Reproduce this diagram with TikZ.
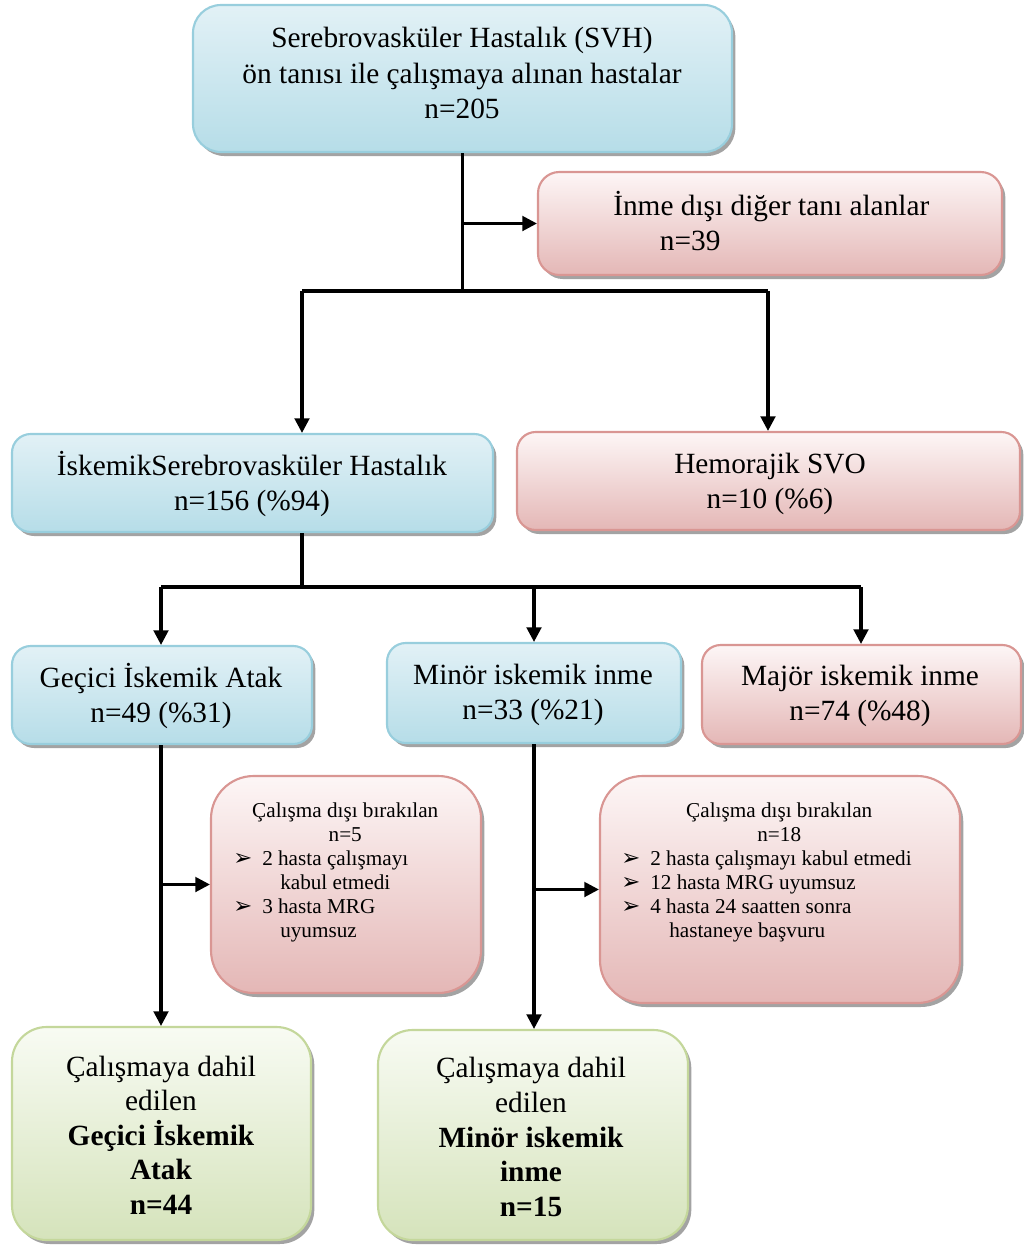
\documentclass[tikz,border=0pt]{standalone}
\usepackage{fontspec}
\setmainfont{Liberation Serif}
\newfontfamily\dejavu{DejaVu Sans}
\usetikzlibrary{fit,shadows,arrows.meta}
\definecolor{bluetop}{HTML}{E2F1F6}
\definecolor{bluebot}{HTML}{B6DDE8}
\definecolor{bluedraw}{HTML}{98CEDD}
\definecolor{pinktop}{HTML}{FDF6F6}
\definecolor{pinkbot}{HTML}{E4B7B6}
\definecolor{pinkdraw}{HTML}{D99693}
\definecolor{greentop}{HTML}{F8FBF3}
\definecolor{greenbot}{HTML}{D5E3BB}
\definecolor{greendraw}{HTML}{C4D79B}
\newcommand{\blt}{\makebox[21.75pt][l]{\raisebox{-0.5pt}{\dejavu\fontsize{17}{17}\selectfont ➢}}}
\tikzset{
  boxbase/.style={inner sep=0pt, line width=1.6pt,
    drop shadow={shadow xshift=2.5pt, shadow yshift=-3pt, fill=black!45, opacity=0.8}},
  bluebox/.style={boxbase, draw=bluedraw, top color=bluetop, bottom color=bluebot},
  pinkbox/.style={boxbase, draw=pinkdraw, top color=pinktop, bottom color=pinkbot},
  greenbox/.style={boxbase, draw=greendraw, top color=greentop, bottom color=greenbot},
  bigtxt/.style={font=\fontsize{22}{26.3}\selectfont, align=center, inner sep=0pt},
  boldtxt/.style={font=\fontsize{22}{25.9}\selectfont, align=center, inner sep=0pt},
  smalltxt/.style={font=\fontsize{15.9}{18}\selectfont, align=left, inner sep=0pt},
  conn/.style={line width=2.3pt, draw=black},
  arr/.style={conn, -{Triangle[length=11pt,width=11pt]}}
}
\begin{document}
\begin{tikzpicture}[x=0.75pt,y=-0.75pt]
\useasboundingbox (0,0) rectangle (1024,1247);

% boxes
\node[bluebox, rounded corners=21pt, fit={(193,5)(732,152)}] (top) {};
\node[pinkbox, rounded corners=16pt, fit={(538,172)(1002,275)}] (inme) {};
\node[bluebox, rounded corners=14pt, fit={(12,434)(493,532)}] (isk) {};
\node[pinkbox, rounded corners=14pt, fit={(517,432)(1020,530)}] (hem) {};
\node[bluebox, rounded corners=14pt, fit={(12,646)(312,744)}] (gec) {};
\node[bluebox, rounded corners=14pt, fit={(387,643)(681,743)}] (min) {};
\node[pinkbox, rounded corners=14pt, fit={(702,645)(1021,744)}] (maj) {};
\node[pinkbox, rounded corners=32pt, fit={(211,776)(481,993)}] (ex1) {};
\node[pinkbox, rounded corners=32pt, fit={(600,776)(960,1003)}] (ex2) {};
\node[greenbox, rounded corners=26pt, fit={(12,1027)(311,1240)}] (bot1) {};
\node[greenbox, rounded corners=26pt, fit={(378,1030)(688,1240)}] (bot2) {};

% texts
\node[bigtxt] (ttop) at (462,73) {Serebrovasküler Hastalık (SVH)\\ön tanısı ile çalışmaya alınan hastalar\\n=205};
\node[bigtxt, align=left, anchor=west] (tinme) at (613,221) {İnme dışı diğer tanı alanlar\\\hspace*{35pt}n=39};
\node[bigtxt] (tisk) at (252,484) {İskemikSerebrovasküler Hastalık\\n=156 (\%94)};
\node[bigtxt] (them) at (770,484) {Hemorajik SVO\\n=10 (\%6)};
\node[bigtxt] (tgec) at (161,696) {Geçici İskemik Atak\\n=49 (\%31)};
\node[bigtxt] (tmin) at (533,695) {Minör iskemik inme\\n=33 (\%21)};
\node[bigtxt] (tmaj) at (860,696) {Majör iskemik inme\\n=74 (\%48)};
\node[boldtxt] (tbot1) at (161,1135) {Çalışmaya dahil\\edilen\\\textbf{Geçici İskemik}\\\textbf{Atak}\\\textbf{n=44}};
\node[boldtxt] (tbot2) at (531,1137) {Çalışmaya dahil\\edilen\\\textbf{Minör iskemik}\\\textbf{inme}\\\textbf{n=15}};
\node[smalltxt, anchor=west] (tex1) at (233,872) {%
\makebox[168pt][c]{Çalışma dışı bırakılan}\\
\makebox[168pt][c]{n=5}\\
\blt 2 hasta çalışmayı\\
\hspace*{35.25pt}kabul etmedi\\
\blt 3 hasta MRG\\
\hspace*{35.25pt}uyumsuz};
\node[smalltxt, anchor=west] (tex2) at (621,872) {%
\makebox[237pt][c]{Çalışma dışı bırakılan}\\
\makebox[237pt][c]{n=18}\\
\blt 2 hasta çalışmayı kabul etmedi\\
\blt 12 hasta MRG uyumsuz\\
\blt 4 hasta 24 saatten sonra\\
\hspace*{36pt}hastaneye başvuru};

% connectors
\coordinate (h1l) at (302,291);
\coordinate (h1r) at (768,291);
\coordinate (h2l) at (161,587);
\coordinate (h2r) at (861,587);

\draw[conn] (top.south) -- (top.south |- h1l);
\draw[arr] (top.south |- inme.west) -- (inme.west);
\draw[conn] (h1l) -- (h1r);
\draw[arr] (h1l) -- (h1l |- isk.north);
\draw[arr] (h1r) -- (h1r |- hem.north);
\draw[conn] (h1l |- isk.south) -- (h1l |- h2l);
\draw[conn] (h2l) -- (h2r);
\draw[arr] (h2l) -- (h2l |- gec.north);
\draw[arr] (min.north |- h2l) -- (min.north);
\draw[arr] (h2r) -- (h2r |- maj.north);
\draw[arr] (gec.south -| h2l) -- (h2l |- bot1.north);
\draw[arr] (h2l |- ex1.west) -- (ex1.west);
\draw[arr] (min.south) -- (min.south |- bot2.north);
\draw[arr] (min.south |- ex2.west) -- (ex2.west);
\end{tikzpicture}
\end{document}
